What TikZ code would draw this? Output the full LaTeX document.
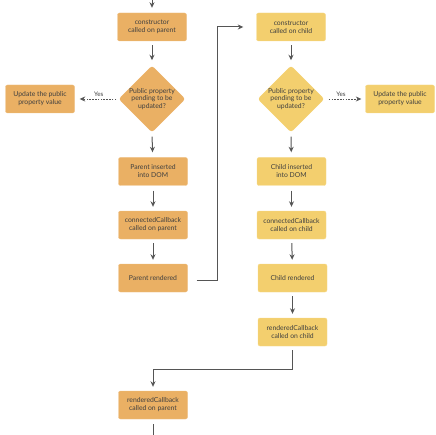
\documentclass[tikz,border=0pt]{standalone}
\usepackage{fontspec}
\setmainfont{Lato}
\usetikzlibrary{shapes.geometric,arrows.meta}
\definecolor{parentfill}{HTML}{EAB064}
\definecolor{childfill}{HTML}{F3CF6E}
\definecolor{txt}{HTML}{3F3F3F}
\definecolor{linec}{HTML}{555555}
\tikzset{
  box/.style={rectangle, rounded corners=2pt, minimum width=69pt, minimum height=28pt,
    inner sep=1pt, align=center, font=\fontsize{6.8}{8}\selectfont, text=txt},
  pbox/.style={box, fill=parentfill, draw=parentfill!80!white, line width=0.4pt},
  cbox/.style={box, fill=childfill, draw=childfill!80!white, line width=0.4pt},
  dia/.style={diamond, aspect=1, minimum width=66pt, minimum height=66pt, inner sep=0pt,
    align=center, font=\fontsize{6.8}{7.6}\selectfont, text=txt, rounded corners=3pt},
  flow/.style={draw=linec, line width=1pt, -{Stealth[length=5.5pt,width=5pt]}},
  plain/.style={draw=linec, line width=1pt},
  dflow/.style={draw=linec, line width=0.7pt, dashed, dash pattern=on 1.6pt off 1.2pt, -{Stealth[length=5.5pt,width=5pt]}},
  yeslab/.style={font=\fontsize{6.3}{7}\selectfont, text=txt, inner sep=0pt}
}
\begin{document}
\begin{tikzpicture}[x=1pt,y=-1pt]
\useasboundingbox (0,0) rectangle (435,435);
% parent column
\node[pbox] (pc) at (152,27) {constructor\\called on parent};
\node[dia, fill=parentfill] (pd) at (152,99) {Public property\\pending to be\\updated?};
\node[pbox] (pu) at (40,99) {Update the public\\property value};
\node[pbox] (pi) at (153,171.5) {Parent inserted\\into DOM};
\node[pbox] (pcc) at (153,225) {connectedCallback\\called on parent};
\node[pbox] (pr) at (153,278) {Parent rendered};
\node[pbox] (prc) at (153,405) {renderedCallback\\called on parent};
% child column
\node[cbox] (cc) at (291,27) {constructor\\called on child};
\node[dia, fill=childfill] (cd) at (291,99) {Public property\\pending to be\\updated?};
\node[cbox] (cu) at (400,99) {Update the public\\property value};
\node[cbox] (ci) at (291.5,171.5) {Child inserted\\into DOM};
\node[cbox] (ccc) at (291.5,225) {connectedCallback\\called on child};
\node[cbox] (cr) at (292.5,278) {Child rendered};
\node[cbox] (crc) at (292.5,332) {renderedCallback\\called on child};
% helper coordinates
\coordinate (topin) at (152,0);
\coordinate (botout) at (153,435);
\coordinate (j1) at (217,280);
\coordinate (j2) at (217,27);
\coordinate (j3) at (292.5,369);
\coordinate (j4) at (153,369);
% connectors
\draw[flow, shorten >=5pt] (topin) -- (pc);
\draw[flow, shorten <=4pt, shorten >=5pt] (pc) -- (pd);
\draw[flow, shorten <=4pt, shorten >=5pt] (pd.south) -- (pi);
\draw[flow, shorten <=5pt, shorten >=4pt] (pi) -- (pcc);
\draw[flow, shorten <=4pt, shorten >=4pt] (pcc) -- (pr);
\draw[dflow, shorten <=2pt, shorten >=5pt] (pd.west) -- (pu.east) node[yeslab, pos=0.45, above=2pt] {Yes};
\draw[flow, shorten <=9pt, shorten >=13pt] (pr.east |- j1) -- (j1) -- (j2) -- (cc.west);
\draw[flow, shorten <=4pt, shorten >=5pt] (cc) -- (cd);
\draw[flow, shorten <=4pt, shorten >=5pt] (cd.south) -- (ci);
\draw[dflow, shorten <=4pt, shorten >=4pt] (cd.east) -- (cu.west) node[yeslab, pos=0.4, above=2pt] {Yes};
\draw[flow, shorten <=5pt, shorten >=4pt] (ci) -- (ccc);
\draw[flow, shorten <=4pt, shorten >=4pt] (ccc) -- (cr);
\draw[flow, shorten <=4pt, shorten >=4pt] (cr) -- (crc);
\draw[flow, shorten <=4pt, shorten >=4pt] (crc.south) -- (j3) -- (j4) -- (prc.north);
\draw[plain, shorten <=5pt] (prc.south) -- (botout);
\end{tikzpicture}
\end{document}
